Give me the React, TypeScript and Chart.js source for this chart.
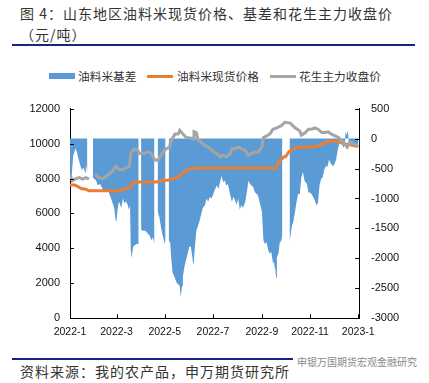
import React, { useEffect, useRef } from "react";
import { Chart, registerables } from "chart.js";

Chart.register(...registerables);

// x values are day numbers counted from 2022-01-01 (day 0)
const xTickDays = [3, 62, 123, 184, 246, 307, 368];
const xTickLabels = ["2022-1", "2022-3", "2022-5", "2022-7", "2022-9", "2022-11", "2023-1"];

// 油料米基差 (right axis); null = no data
const basisDays = [
  3, 5, 7, 10, 12, 14, 16, 18, 20, 22, 23, 25, 29,
  32, 36, 38, 41, 45, 49, 52, 55, 57, 59, 61, 62, 63, 65, 68, 70, 72, 74, 76, 77, 79, 80, 81, 83, 85, 88, 90, 92,
  93, 95, 98, 100, 102, 104, 106, 108, 110, 112,
  114, 115, 116, 119, 121, 123, 124, 126,
  128, 130, 131, 133, 135, 138, 140, 142, 143, 145, 146, 148, 150, 152, 154, 156, 159, 160, 162, 163, 165, 167, 169, 171,
  174, 176, 178, 180, 182, 184, 186, 189, 191, 193, 195, 197, 199, 201, 203, 206, 208, 210, 212, 214, 216, 218, 220, 222,
  225, 227, 229, 231, 233, 235, 237, 239, 241, 244, 246, 248, 250, 252, 254, 256, 258, 260, 261, 263, 264, 265, 267, 269,
  270, 272, 276,
  281, 284, 286, 288, 290, 292, 294, 296, 298, 300, 303, 305, 307, 309, 311, 313, 315, 317, 319, 321, 323, 325, 327, 329,
  331, 333, 336, 338, 340, 342, 344, 345, 347, 349, 351, 352, 353, 355, 356, 357, 359, 360, 362, 364, 366, 367, 368,
];
const basisValues: (number | null)[] = [
  -645, -645, -290, -160, -240, -350, -450, -530, -485, -565, -435, -565, null,
  -650, -700, -780, -760, -860, -880, -890, -1000, -1080, -1160, -1375, -1380, -1210, -1050, -1160, -1000, -1080, -1050, -1105, -1185, -1120, -1860, -1995, -1805, -1780, -1750, -1780, null,
  -1515, -1540, -1540, -1560, -1596, -1620, -1703, -1650, -1758, null,
  -1200, -1272, -1300, -1540, -1650, -1758, -1700, null,
  -1690, -1750, -1973, -2244, -2300, -2406, -2433, -2460, -2649, -2460, -2298, -2136, -2027, -1920, -1812, -1800, -2082, -2000, -1690, -1541, -1460, -1380, -1272, -1163,
  -1110, -1000, -1055, -974, -1000, -947, -866, -785, -840, -731, -623, -730, -700, -785, -760, -947, -1055, -970, -1030, -1110, -1000, -1190, -1110, -1160,
  -1055, -893, -705, -760, -785, -810, -893, -920, -947, -1110, -1217, -1703, -1758, -1730, -1865, -1920, -1893, -2082, -2055, -2190, -2325, -1980, -1920, -1703,
  -1740, -1600, null,
  -1730, -1460, -1380, -1217, -1050, -920, -930, -650, -560, -704, -760, -900, -900, -930, -974, -1029, -1110, -1080, -785, -677, -650, -515, -462, -470,
  -353, -407, -462, -420, -353, -191, -83, -80, -50, -150, -120, 120, 60, 130, -40, -130, -100, -30, -160, -90, -150, -120, -60,
];

// 油料米现货价格 (left axis)
const spotDays = [3, 9, 13, 17, 23, 27, 66, 68, 72, 76, 80, 82, 87, 113, 119, 126, 134, 140, 145, 149, 155, 162, 264, 267, 270, 274, 276, 280, 284, 290, 313, 318, 324, 328, 343, 347, 356, 362, 368];
const spotValues = [7630, 7630, 7540, 7430, 7390, 7300, 7300, 7330, 7390, 7460, 7540, 7760, 7800, 7800, 7890, 7900, 7980, 8090, 8280, 8440, 8540, 8590, 8590, 8960, 9060, 9240, 9240, 9520, 9650, 9800, 9800, 9890, 9980, 10130, 10130, 10020, 9940, 9890, 9830];

// 花生主力收盘价 (left axis)
const futDays = [
  3, 6, 11, 15, 19, 23, 27, 30, 35, 40, 44, 49, 53, 57, 61, 65, 70, 74, 78, 80, 84, 89, 91, 93, 98, 102, 106, 110, 114, 117,
  121, 125, 129, 131, 136, 140, 142, 146, 150, 155, 159, 160, 163, 165, 169, 174, 178, 182, 185, 189, 193, 197, 201, 206,
  208, 212, 216, 220, 225, 229, 233, 237, 241, 246, 248, 252, 256, 260, 265, 271, 275, 282, 288, 294, 296, 301, 305, 309,
  313, 317, 322, 326, 330, 334, 338, 343, 347, 351, 354, 357, 362, 366, 368,
];
const futValues: (number | null)[] = [
  8220, 7870, 8000, 8050, 7960, 8050, 7960, null, 8220, 8040, 7980, 8130, 8280, 8410, 8700, 8520, 8520, 8610, 8700, 9430, 9700, 9610, 9430, 9430, 9460, 9520, 9430, 9090, 9020, 9240,
  9520, 9700, 9800, 10170, 10540, 10540, 10760, 10540, 10350, 10320, 10260, 10680, 10630, 10260, 10070, 9890, 9800, 9650, 9520, 9430, 9240, 9330, 9240, 9430,
  9700, 9700, 9800, 9700, 9610, 9330, 9430, 9520, 9520, 9800, 10350, 10440, 10540, 10820, 10900, 11030, 11220, 11170, 10900, 10720, 10480, 10630, 10820, 10820,
  10900, 10820, 10630, 10630, 10670, 10540, 10450, 10350, 10170, 9980, 9800, 10070, 9980, 9890, 9800,
];

const leftTicks = [0, 2000, 4000, 6000, 8000, 10000, 12000];
const rightTicks = [-3000, -2500, -2000, -1500, -1000, -500, 0, 500];

const BLUE = "#5B9BD5";
const ORANGE = "#ED7D31";
const GRAY = "#A5A5A5";
const RULE = "#1C237E";
const CJK = '"Noto Sans CJK SC", sans-serif';

const pairs = (xs: number[], ys: (number | null)[]) => xs.map((x, i) => ({ x, y: ys[i] }));

const innerTicks = {
  id: "innerTicks",
  afterDraw(chart: any) {
    const ctx = chart.ctx;
    const { left, right, bottom } = chart.chartArea;
    const len = 4;
    ctx.save();
    ctx.strokeStyle = "#000";
    ctx.lineWidth = 1;
    ctx.beginPath();
    const xs = chart.scales.x;
    xs.ticks.forEach((t: any) => {
      const p = Math.round(xs.getPixelForValue(t.value)) + 0.5;
      ctx.moveTo(p, bottom);
      ctx.lineTo(p, bottom - len);
    });
    const yl = chart.scales.y;
    yl.ticks.forEach((t: any) => {
      const p = Math.round(yl.getPixelForValue(t.value)) + 0.5;
      ctx.moveTo(left, p);
      ctx.lineTo(left + len, p);
    });
    const yr = chart.scales.yR;
    yr.ticks.forEach((t: any) => {
      const p = Math.round(yr.getPixelForValue(t.value)) + 0.5;
      ctx.moveTo(right, p);
      ctx.lineTo(right - len, p);
    });
    ctx.stroke();
    ctx.restore();
  },
};

function ChartCanvas() {
  const ref = useRef<HTMLCanvasElement | null>(null);
  useEffect(() => {
    if (!ref.current) return;
    const tickFont = { family: '"Liberation Sans", Arial, sans-serif', size: 11 };
    const plain = (v: any) => String(v);
    const chart = new Chart(ref.current, {
      type: "line",
      data: {
        datasets: [
          {
            label: "油料米基差",
            data: pairs(basisDays, basisValues),
            yAxisID: "yR",
            borderWidth: 0,
            borderColor: BLUE,
            backgroundColor: BLUE,
            fill: "origin",
            pointRadius: 0,
            tension: 0,
            order: 3,
          },
          {
            label: "油料米现货价格",
            data: pairs(spotDays, spotValues),
            yAxisID: "y",
            borderColor: ORANGE,
            borderWidth: 3,
            pointRadius: 0,
            fill: false,
            tension: 0,
            order: 2,
          },
          {
            label: "花生主力收盘价",
            data: pairs(futDays, futValues),
            yAxisID: "y",
            borderColor: GRAY,
            borderWidth: 3,
            pointRadius: 0,
            fill: false,
            tension: 0,
            order: 1,
          },
        ],
      } as any,
      options: {
        animation: false,
        responsive: false,
        devicePixelRatio: 1,
        layout: { padding: { top: 12.5, bottom: 0, left: 0, right: 0 } },
        plugins: { legend: { display: false }, tooltip: { enabled: false } },
        scales: {
          x: {
            type: "linear",
            min: 3,
            max: 369,
            grid: { display: true, drawOnChartArea: false, drawTicks: false },
            border: { display: true, color: "#000", width: 1 },
            afterBuildTicks: (s: any) => {
              s.ticks = xTickDays.map((v) => ({ value: v }));
            },
            afterFit: (s: any) => {
              s.height = 31.7;
            },
            ticks: {
              autoSkip: false,
              maxRotation: 0,
              padding: 8,
              color: "#111",
              font: { ...tickFont, size: 10.5 },
              callback: (v: any) => {
                const i = xTickDays.indexOf(Number(v));
                return i >= 0 ? xTickLabels[i] : "";
              },
            },
          },
          y: {
            position: "left",
            min: 0,
            max: 12000,
            grid: { display: true, drawOnChartArea: false, drawTicks: false },
            border: { display: true, color: "#000", width: 1 },
            afterBuildTicks: (s: any) => {
              s.ticks = leftTicks.map((v) => ({ value: v }));
            },
            afterFit: (s: any) => {
              s.width = 70;
            },
            ticks: { padding: 10, color: "#111", font: tickFont, callback: plain },
          },
          yR: {
            position: "right",
            min: -3000,
            max: 500,
            grid: { display: true, drawOnChartArea: false, drawTicks: false },
            border: { display: true, color: "#000", width: 1 },
            afterBuildTicks: (s: any) => {
              s.ticks = rightTicks.map((v) => ({ value: v }));
            },
            afterFit: (s: any) => {
              s.width = 70;
            },
            ticks: { padding: 12, color: "#111", font: tickFont, callback: plain },
          },
        },
      } as any,
      plugins: [innerTicks],
    });
    return () => chart.destroy();
  }, []);
  return <canvas ref={ref} width={429} height={260} style={{ display: "block", width: 429, height: 260 }} />;
}

const legendItems = [
  { label: "油料米基差", color: BLUE, kind: "box", x: 49, textX: 78 },
  { label: "油料米现货价格", color: ORANGE, kind: "line", x: 147, textX: 177 },
  { label: "花生主力收盘价", color: GRAY, kind: "line", x: 270, textX: 299 },
];

export default function App() {
  return (
    <div
      style={{
        position: "fixed",
        left: 0,
        top: 0,
        width: 429,
        height: 383,
        background: "#fff",
        overflow: "hidden",
        fontFamily: CJK,
      }}
    >
      <div style={{ position: "absolute", left: 20, top: 3, fontSize: 14, lineHeight: "21px", letterSpacing: 1, color: "#333", whiteSpace: "nowrap" }}>
        图 4：山东地区油料米现货价格、基差和花生主力收盘价
      </div>
      <div style={{ position: "absolute", left: 20, top: 24, fontSize: 14, lineHeight: "21px", letterSpacing: 1, color: "#333", whiteSpace: "nowrap" }}>
        （元/吨）
      </div>
      <div style={{ position: "absolute", left: 12, top: 44, width: 403, height: 2, background: RULE }} />

      {legendItems.map((it) => (
        <React.Fragment key={it.label}>
          <div
            style={{
              position: "absolute",
              left: it.x,
              top: it.kind === "box" ? 73 : 74.5,
              width: 26,
              height: it.kind === "box" ? 6 : 3,
              background: it.color,
            }}
          />
          <div
            style={{
              position: "absolute",
              left: it.textX,
              top: 68,
              fontSize: 11.7,
              lineHeight: "16px",
              color: "#333",
              whiteSpace: "nowrap",
            }}
          >
            {it.label}
          </div>
        </React.Fragment>
      ))}

      <div style={{ position: "absolute", left: 0, top: 90, width: 429, height: 260 }}>
        <ChartCanvas />
      </div>

      <div style={{ position: "absolute", left: 12, top: 358, width: 281, height: 2, background: RULE }} />
      <div style={{ position: "absolute", left: 297, top: 355, fontSize: 10, lineHeight: "14px", color: "#8a8a8a", whiteSpace: "nowrap" }}>
        申银万国期货宏观金融研究
      </div>
      <div style={{ position: "absolute", left: 20, top: 361, fontSize: 14, lineHeight: "21px", letterSpacing: 1, color: "#333", whiteSpace: "nowrap" }}>
        资料来源：我的农产品，申万期货研究所
      </div>
    </div>
  );
}
